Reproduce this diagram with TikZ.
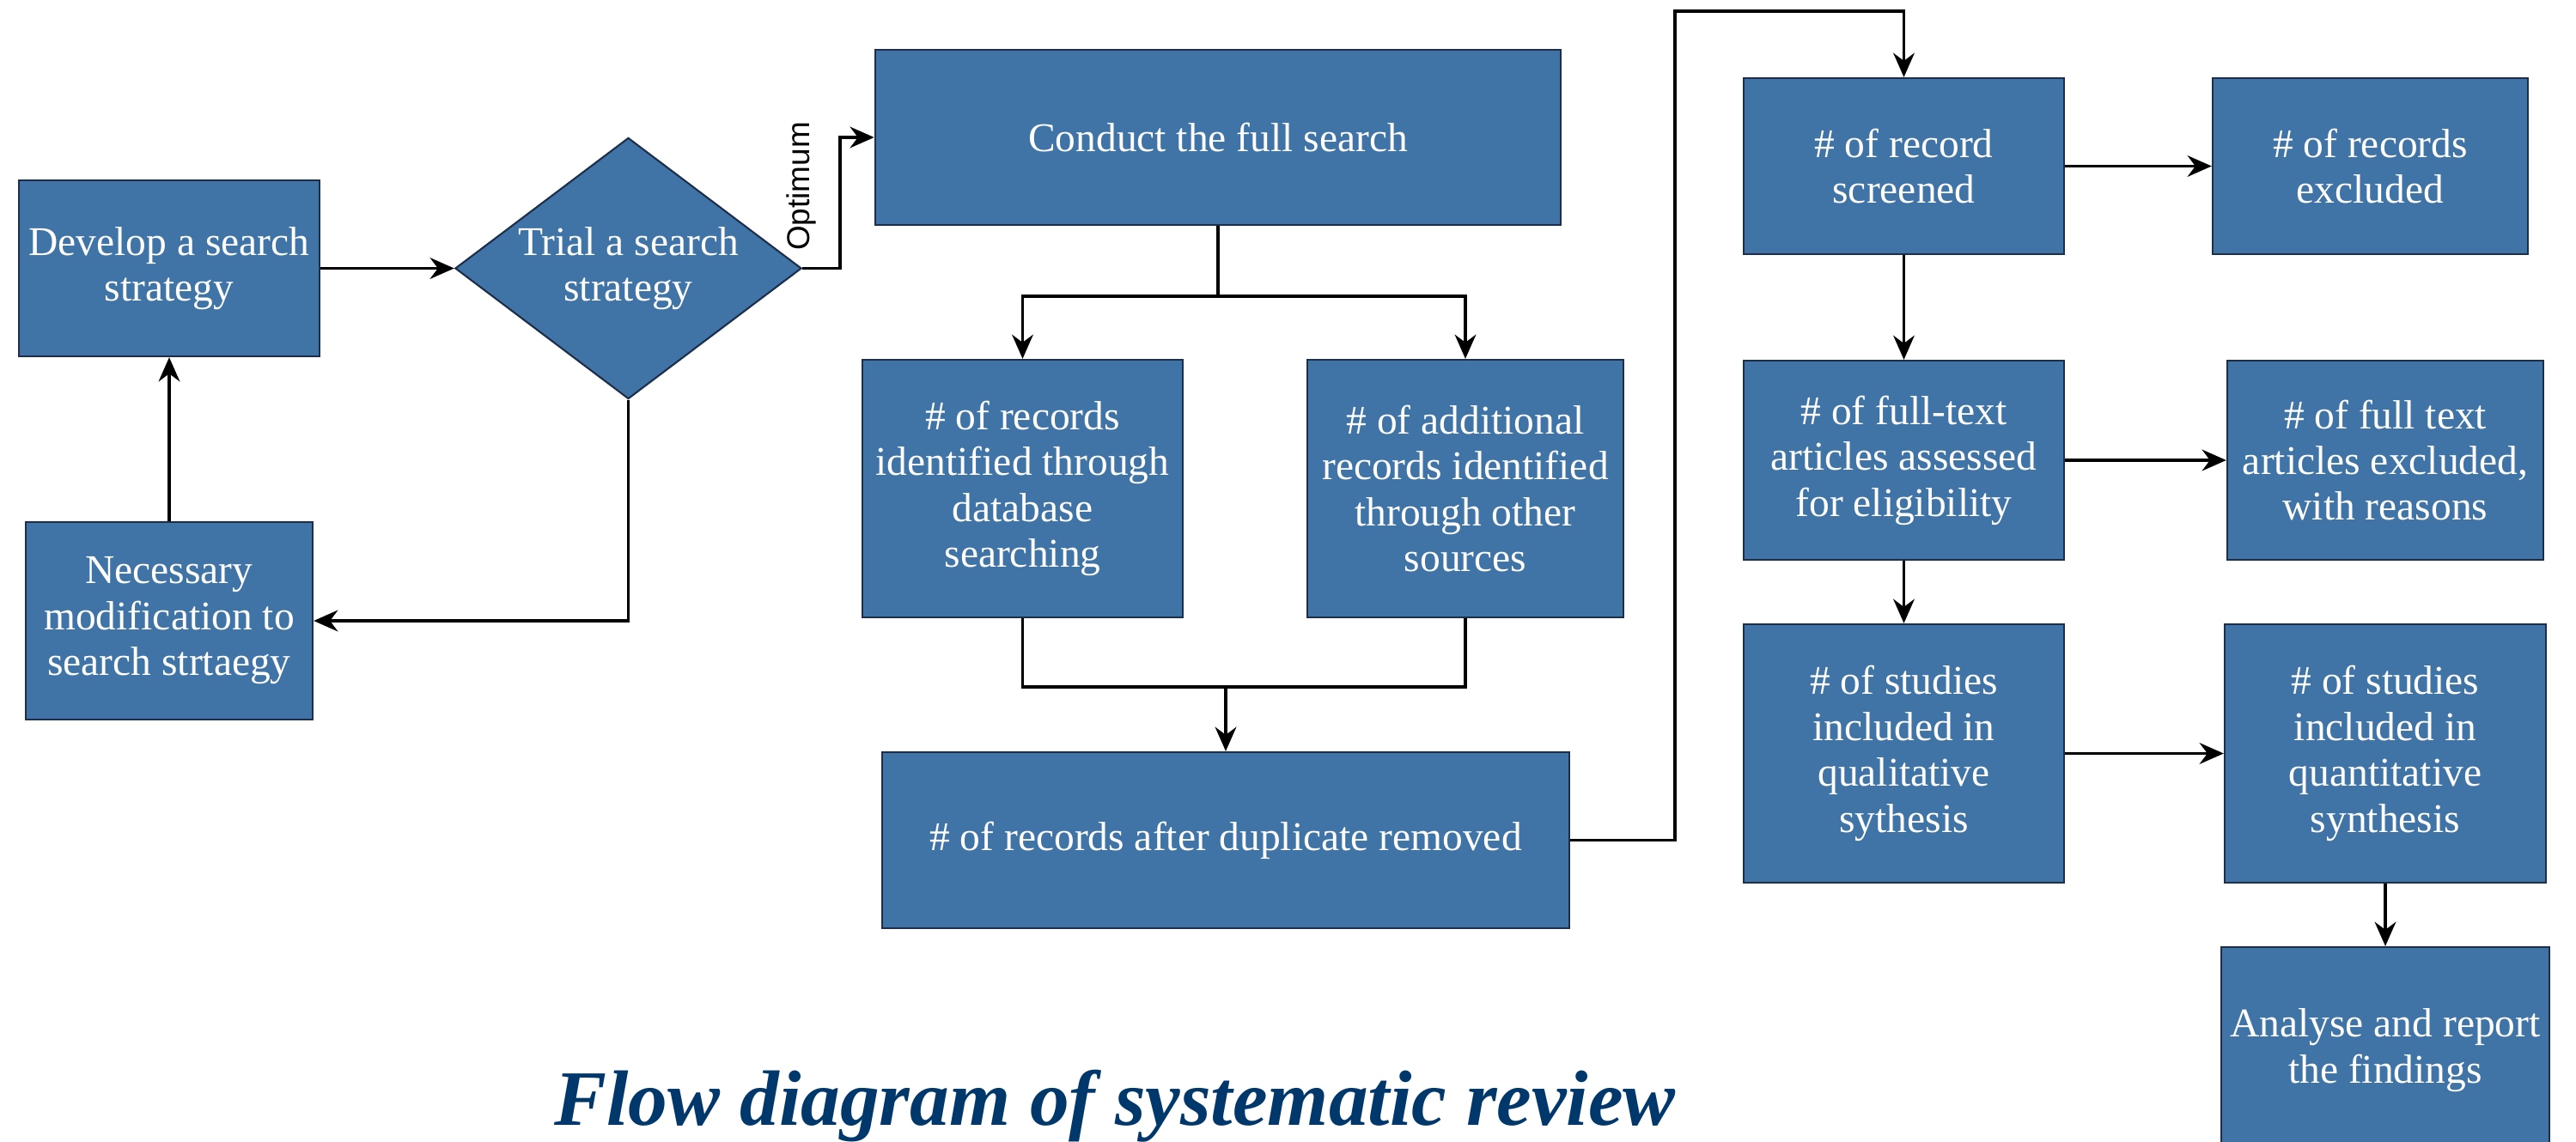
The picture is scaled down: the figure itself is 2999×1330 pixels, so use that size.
\documentclass[tikz,border=0pt]{standalone}
\usepackage{fontspec}
\setmainfont{Liberation Serif}
\newfontfamily\optfont{Liberation Sans}
\usetikzlibrary{shapes.geometric,arrows.meta}

\definecolor{boxblue}{RGB}{64,116,166}
\definecolor{boxline}{RGB}{28,46,74}
\definecolor{titleblue}{RGB}{0,56,108}

\tikzset{
    box/.style={rectangle, fill=boxblue, draw=boxline, line width=0.6pt, text=white,
        align=center, inner sep=0pt, font=\fontsize{13.5}{15.2}\selectfont},
    decision/.style={diamond, fill=boxblue, draw=boxline, line width=0.6pt, text=white,
        align=center, inner sep=0pt, shape aspect=1.33, font=\fontsize{13.5}{15.2}\selectfont},
    arr/.style={-{Stealth[length=8pt,width=7pt]}, line width=1.1pt},
}

\begin{document}
\begin{tikzpicture}[x=0.01cm, y=-0.01cm]
    % Fix the page to the size of the reference
    \clip (0,0) rectangle (2999,1330);

    % Search strategy loop
    \node[box, minimum width=3.5cm, minimum height=2.05cm] (dev) at (197,312.5) {Develop a search\\strategy};
    \node[decision, minimum width=4.03cm, minimum height=3.04cm] (trial) at (731.5,312.5) {Trial a search\\strategy};
    \node[box, minimum width=3.34cm, minimum height=2.3cm] (nec) at (197,723) {Necessary\\modification to\\search strtaegy};

    \draw[arr] (dev) -- (trial);
    \draw[arr] (trial.south) |- (nec);
    \draw[arr] (nec) -- (dev);

    % Full search and identification
    \node[box, minimum width=7.98cm, minimum height=2.04cm] (conduct) at (1418,160) {Conduct the full search};
    \node[box, minimum width=3.73cm, minimum height=3cm] (recdb) at (1190.5,569) {\# of records\\identified through\\database\\searching};
    \node[box, minimum width=3.68cm, minimum height=3cm] (addrec) at (1706,569) {\# of additional\\records identified\\through other\\sources};
    \node[box, minimum width=8cm, minimum height=2.05cm] (dup) at (1427,978.5) {\# of records after duplicate removed};

    \draw[arr] (trial.east) -- ++(44,0) |- (conduct);
    \node[rotate=90, anchor=base, font=\optfont\fontsize{10.5}{12}\selectfont] (opt) at (942,217) {Optimum};

    \draw[arr] (conduct.south) -- ++(0,82) -| (recdb);
    \draw[arr] (conduct.south) -- ++(0,82) -| (addrec);

    \coordinate (join) at (1427,800);
    \draw[line width=1.1pt] (recdb.south) |- (join) -| (addrec.south);
    \draw[arr] (join) -- (dup);

    % Screening, eligibility and inclusion
    \node[box, minimum width=3.73cm, minimum height=2.05cm] (scr) at (2216.5,193.5) {\# of record\\screened};
    \node[box, minimum width=3.67cm, minimum height=2.05cm] (excl) at (2759.5,193.5) {\# of records\\excluded};
    \node[box, minimum width=3.73cm, minimum height=2.32cm] (ft) at (2216.5,536) {\# of full-text\\articles assessed\\for eligibility};
    \node[box, minimum width=3.68cm, minimum height=2.32cm] (ftex) at (2777,536) {\# of full text\\articles excluded,\\with reasons};
    \node[box, minimum width=3.73cm, minimum height=3.01cm] (qual) at (2216.5,877.5) {\# of studies\\included in\\qualitative\\sythesis};
    \node[box, minimum width=3.74cm, minimum height=3.01cm] (quant) at (2777,877.5) {\# of studies\\included in\\quantitative\\synthesis};
    \node[box, minimum width=3.82cm, minimum height=2.4cm] (report) at (2777,1223) {Analyse and report\\the findings};

    \coordinate (top) at (1950,13);
    \draw[arr] (dup.east) -| (top) -| (scr);

    \draw[arr] (scr) -- (excl);
    \draw[arr] (scr) -- (ft);
    \draw[arr] (ft) -- (ftex);
    \draw[arr] (ft) -- (qual);
    \draw[arr] (qual) -- (quant);
    \draw[arr] (quant) -- (report);

    % Title
    \node[anchor=base, text=titleblue, font=\fontsize{26}{30}\selectfont\bfseries\itshape] (title) at (1298,1310) {Flow diagram of systematic review};
\end{tikzpicture}
\end{document}
